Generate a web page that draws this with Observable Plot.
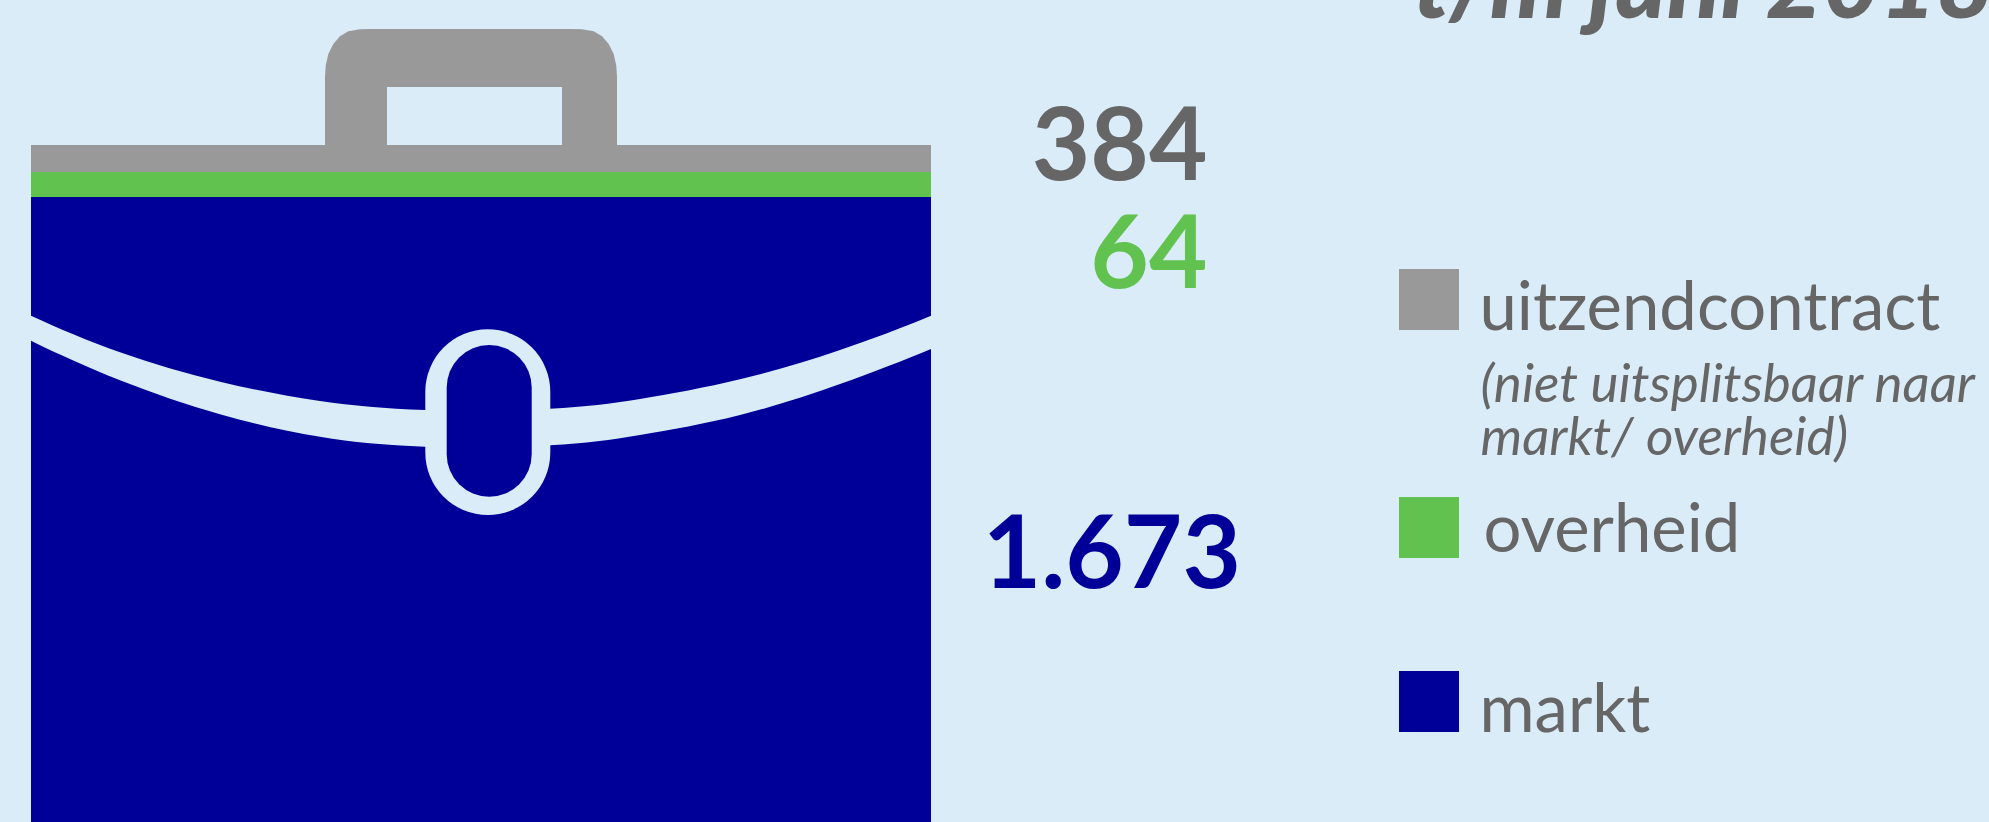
<!DOCTYPE html>
<html><head><meta charset="utf-8">
<script src="https://cdn.jsdelivr.net/npm/d3@7"></script>
<script src="https://cdn.jsdelivr.net/npm/@observablehq/plot@0.6"></script>
<style>html,body{margin:0;padding:0;background:#daecf8;overflow:hidden}svg{display:block}</style>
</head><body><div id="c"></div>
<script>
// data
const categories = ["markt", "overheid", "uitzendcontract"];
const values = [1673, 64, 384];
const colours = ["#000099", "#61c250", "#999999"];
const legendNotes = ["(niet uitsplitsbaar naar", "markt/ overheid)"];
const titleTail = "t/m juni 2018";

// briefcase decoration (page pixels)
const flapX =      [-40, 31, 120, 220, 320, 425, 550, 640, 740, 840, 931, 1000];
const flapTop =    [280.4, 315.7, 352.2, 381.7, 401, 410, 408.7, 399, 379.3, 350, 315.7, 284.7];
const flapBottom = [303, 340.7, 380.2, 414.3, 436.8, 446.7, 445.3, 435, 415, 384, 349, 317.5];
const handleX =    [325, 325.7, 328.3, 333.3, 340, 348.3, 360, 370, 572, 582, 593.7, 602, 608.7, 613.7, 616.3, 617];
const handleTop =  [77.3, 65.7, 54, 44, 36.3, 31.3, 29.3, 29, 29, 29.3, 31.3, 36.3, 44, 54, 65.7, 77.3];

const W = 1989, H = 822, BG = "#daecf8", INK = "#666666";
const pxPerUnit = 25 / 64; // green band height over its value
const zeroPx = 197 + values[0] * pxPerUnit;
const u = px => (zeroPx - px) / pxPerUnit; // page pixel → value units
const fmt = d3.formatLocale({decimal: ",", thousands: ".", grouping: [3], currency: ["€", ""]}).format(",d");

const bars = categories.slice(0, 2).map((c, i) => ({c, v: values[i]}));
const flap = flapX.map((x, i) => ({x, t: u(flapTop[i]), b: u(flapBottom[i])}));
const handle = handleX.map((x, i) => ({x, t: u(handleTop[i]), b: u(150)}));
const lab = (s, x, y, o) => Plot.text([s], {x: () => x, y: () => u(y), text: d => d, fontFamily: "Lato", lineAnchor: "bottom", ...o});
const box = (x1, x2, y1, y2, o) => Plot.rect([0], {x1: () => x1, x2: () => x2, y1: () => u(y1), y2: () => u(y2), ...o});
const legendY = [269, 497, 671];
const legend = [2, 1, 0].map((i, k) => ({c: categories[i], y1: u(legendY[k]), y2: u(legendY[k] + 61)}));

const chart = Plot.plot({
  width: W, height: H, margin: 0,
  style: {background: BG, overflow: "hidden"},
  x: {domain: [0, W], range: [0, W], axis: null},
  y: {domain: [u(H), u(0)], range: [H, 0], axis: null},
  color: {domain: categories, range: colours},
  marks: [
    // handle
    Plot.areaY(handle, {x: "x", y1: "t", y2: "b", fill: colours[2], curve: "linear"}),
    box(387, 562, 87, 145, {fill: BG}),
    // grey top band, then stacked values
    box(31, 931, 145, 172, {fill: colours[2]}),
    Plot.rectY(bars, {x1: () => 31, x2: () => 931, y: "v", fill: "c"}),
    // flap and clasp
    Plot.areaY(flap, {x: "x", y1: "t", y2: "b", fill: BG, curve: "natural"}),
    box(425.3, 550.3, 329.3, 515, {fill: BG, rx: 62.5, ry: 62.5}),
    box(446.7, 531.7, 345, 496.7, {fill: colours[0], rx: 42.5, ry: 42.5}),
    // value labels
    lab(fmt(values[2]), 1207, 179, {fontSize: 101, fontWeight: 700, fill: INK, textAnchor: "end"}),
    lab(fmt(values[1]), 1207, 287, {fontSize: 101, fontWeight: 700, fill: colours[1], textAnchor: "end"}),
    lab(fmt(values[0]), 1240.5, 587, {fontSize: 101, fontWeight: 700, fill: colours[0], textAnchor: "end"}),
    // title tail
    lab(titleTail, 1413, 17, {fontSize: 98, fontWeight: 900, fontStyle: "italic", fill: INK, textAnchor: "start"}),
    // legend
    Plot.rect(legend, {x1: () => 1399, x2: () => 1459, y1: "y1", y2: "y2", fill: "c"}),
    lab(categories[2], 1479, 329, {fontSize: 67, fill: INK, textAnchor: "start"}),
    lab(legendNotes[0], 1480, 401, {fontSize: 53, fontStyle: "italic", fill: INK, textAnchor: "start"}),
    lab(legendNotes[1], 1480, 454, {fontSize: 53, fontStyle: "italic", fill: INK, textAnchor: "start"}),
    lab(categories[1], 1483, 551, {fontSize: 67, fill: INK, textAnchor: "start"}),
    lab(categories[0], 1479, 731, {fontSize: 67, fill: INK, textAnchor: "start"})
  ]
});
document.getElementById("c").append(chart);
</script></body></html>
